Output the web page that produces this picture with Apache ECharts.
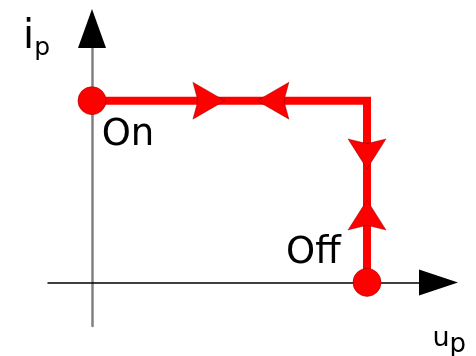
<!DOCTYPE html>
<html>
<head>
<meta charset="UTF-8">
<title>On / Off</title>
<script src="https://cdn.jsdelivr.net/npm/echarts@6/dist/echarts.min.js"></script>
<style>
  html, body { margin: 0; padding: 0; background: #fff; }
  #chart { width: 476px; height: 356px; }
</style>
</head>
<body>
<div id="chart"></div>
<script>
// axis ranges (u_p horizontal, i_p vertical)
var uRange = [-0.16, 1.26];
var iRange = [-0.24, 1.29];

// switching path On -> corner -> Off
var pathU = [0, 1, 1];
var pathI = [1, 1, 0];

// end states
var stateNames = ['On', 'Off'];
var stateU = [0, 1];
var stateI = [1, 0];

// direction arrows on the path
var arrowU = [0.425, 0.658, 1, 1];
var arrowI = [1, 1, 0.707, 0.371];
var arrowRot = [0, 180, -90, 90];

var FONT = 'DejaVu Sans';
var RED = '#ff0000';

var pathData = pathU.map(function (u, k) { return [u, pathI[k]]; });

var labelPos = [
    { position: [24, 30], align: 'left' },
    { position: [-12, -33], align: 'right' }
];
var stateData = stateNames.map(function (n, k) {
    return { name: n, value: [stateU[k], stateI[k]], label: labelPos[k] };
});

var arrowData = arrowU.map(function (u, k) {
    var vertical = arrowRot[k] !== 0 && arrowRot[k] !== 180;
    return {
        value: [u, arrowI[k]],
        symbolRotate: arrowRot[k],
        symbolSize: vertical ? [30, 38] : [32, 37]
    };
});

var chart = echarts.init(document.getElementById('chart'));
chart.setOption({
    animation: false,
    backgroundColor: '#fff',
    grid: { left: 48, right: 37.5, top: 48, bottom: 30, outerBoundsMode: 'none', containLabel: false },
    xAxis: {
        type: 'value',
        min: uRange[0],
        max: uRange[1],
        name: '{u|u}{p|p}',
        nameLocation: 'end',
        nameGap: -6,
        nameTextStyle: {
            align: 'left',
            verticalAlign: 'top',
            padding: [43, 0, 0, 0],
            rich: {
                u: { fontFamily: FONT, fontSize: 27, lineHeight: 27, color: '#000', verticalAlign: 'top' },
                p: { fontFamily: FONT, fontSize: 26, lineHeight: 26, color: '#000', verticalAlign: 'top', padding: [7, 0, 0, 0] }
            }
        },
        axisLine: {
            onZero: true,
            symbol: ['none', 'triangle'],
            symbolSize: [26, 39],
            lineStyle: { color: '#000', width: 1.5 }
        },
        axisTick: { show: false },
        axisLabel: { show: false },
        splitLine: { show: false }
    },
    yAxis: {
        type: 'value',
        min: iRange[0],
        max: iRange[1],
        name: '{i|i}{p|p}',
        nameLocation: 'end',
        nameGap: 30,
        nameTextStyle: {
            align: 'right',
            verticalAlign: 'top',
            padding: [0, 42, 0, 0],
            rich: {
                i: { fontFamily: FONT, fontSize: 40, lineHeight: 40, color: '#000', verticalAlign: 'top' },
                p: { fontFamily: FONT, fontSize: 25, lineHeight: 25, color: '#000', verticalAlign: 'top', padding: [18, 0, 0, 0] }
            }
        },
        axisLine: {
            onZero: true,
            lineStyle: { color: '#808080', width: 2.5 }
        },
        axisTick: { show: false },
        axisLabel: { show: false },
        splitLine: { show: false }
    },
    series: [
        {
            // arrow head of the vertical axis
            type: 'scatter',
            clip: false,
            silent: true,
            symbol: 'triangle',
            symbolSize: [28, 39],
            symbolOffset: [0, -19.5],
            itemStyle: { color: '#000', opacity: 1 },
            data: [[0, iRange[1]]],
            z: 3
        },
        {
            type: 'line',
            data: pathData,
            symbol: 'none',
            clip: false,
            lineStyle: { color: RED, width: 8, cap: 'butt', join: 'miter' },
            z: 4
        },
        {
            type: 'scatter',
            clip: false,
            symbol: 'path://M0,0L32,18L0,36L5,18Z',
            itemStyle: { color: RED, opacity: 1, borderColor: 'rgba(90,0,0,0.6)', borderWidth: 0.6 },
            data: arrowData,
            z: 5
        },
        {
            type: 'scatter',
            clip: false,
            symbol: 'circle',
            symbolSize: 28,
            itemStyle: { color: RED, opacity: 1, borderColor: '#a00000', borderWidth: 0.6 },
            label: {
                show: true,
                formatter: '{b}',
                fontFamily: FONT,
                fontSize: 37,
                color: '#000',
                verticalAlign: 'top'
            },
            data: stateData,
            z: 6
        }
    ]
});
</script>
</body>
</html>
